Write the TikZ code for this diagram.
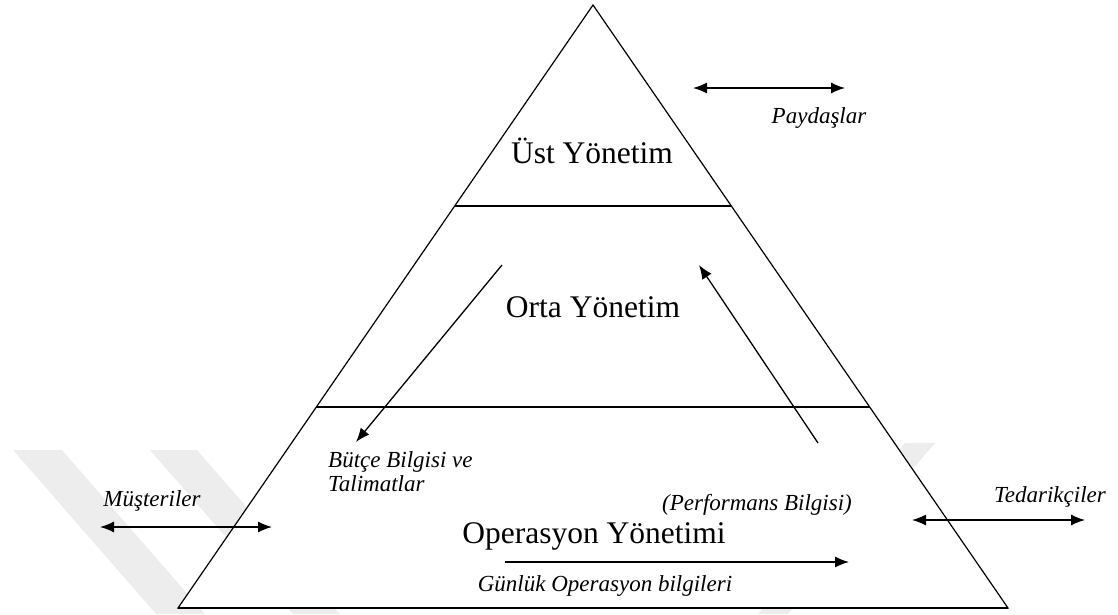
\documentclass[tikz,border=0pt]{standalone}
\usepackage{fontspec}
\setmainfont{Liberation Serif}
\usetikzlibrary{arrows.meta,calc}
\begin{document}
\begin{tikzpicture}[x=1pt,y=-1pt,
  wm/.style={fill=black!7},
  edge/.style={line width=1.2pt,line join=miter},
  tier/.style={line width=1.8pt},
  tip/.tip={Latex[length=14pt,width=11pt]},
  arr/.style={line width=1.3pt,-tip},
  darr/.style={line width=1.3pt,tip-tip},
  big/.style={font=\fontsize{31.5}{36}\selectfont,inner sep=0pt},
  lab/.style={font=\fontsize{23}{27}\selectfont\itshape,inner sep=0pt}]
\path[use as bounding box] (0,0) rectangle (1118,614);
% faint watermark bands
\fill[wm] (13,450) -- (62,450) -- (205,614) -- (156,614) -- cycle;
\fill[wm] (150,450) -- (197,450) -- (340,614) -- (293,614) -- cycle;
\fill[wm] (905,443) -- (935,443) -- (788,614) -- (758,614) -- cycle;
% pyramid
\coordinate (apex) at (593,5);
\coordinate (bl) at (178,608);
\coordinate (br) at (1008,608);
\coordinate (l1) at ($(apex)!0.3333!(bl)$);
\coordinate (r1) at ($(apex)!0.3333!(br)$);
\coordinate (l2) at ($(apex)!0.6667!(bl)$);
\coordinate (r2) at ($(apex)!0.6667!(br)$);
\fill[white] (apex) -- (bl) -- (br) -- cycle;
\draw[edge] (apex) -- (bl) -- (br) -- cycle;
\draw[tier] (l1) -- (r1);
\draw[tier] (l2) -- (r2);
\draw[tier] (bl) -- (br);
% level titles
\node[big,anchor=base] (ust) at (592,163) {Üst Yönetim};
\node[big,anchor=base] (orta) at (593,317) {Orta Yönetim};
\node[big,anchor=base] (ops) at (594,543) {Operasyon Yönetimi};
% labels
\node[lab,anchor=base] (pay) at (819,123) {Paydaşlar};
\node[lab,anchor=base] (mus) at (152,506) {Müşteriler};
\node[lab,anchor=base] (ted) at (1050,502) {Tedarikçiler};
\node[lab,anchor=base] (perf) at (757,510) {(Performans Bilgisi)};
\node[lab,anchor=base west] (butce) at (328,467) {Bütçe Bilgisi ve};
\node[lab,anchor=base west] (talimat) at (328,491) {Talimatlar};
\node[lab,anchor=base] (gunluk) at (605,591) {Günlük Operasyon bilgileri};
% arrow end points
\coordinate (payL) at (693,88);
\coordinate (payR) at (845,88);
\coordinate (musL) at (100,527);
\coordinate (musR) at (272,527);
\coordinate (tedL) at (912,520);
\coordinate (tedR) at (1085,520);
\coordinate (gunS) at (505,562);
\coordinate (gunE) at (849,562);
\coordinate (downS) at (502,265);
\coordinate (downE) at (356,442);
\coordinate (upS) at (818,443);
\coordinate (upE) at (699,265);
% arrows
\draw[darr] (payL) -- (payR);
\draw[darr] (musL) -- (musR);
\draw[darr] (tedL) -- (tedR);
\draw[arr] (gunS) -- (gunE);
\draw[arr] (downS) -- (downE);
\draw[arr] (upS) -- (upE);
\end{tikzpicture}
\end{document}
